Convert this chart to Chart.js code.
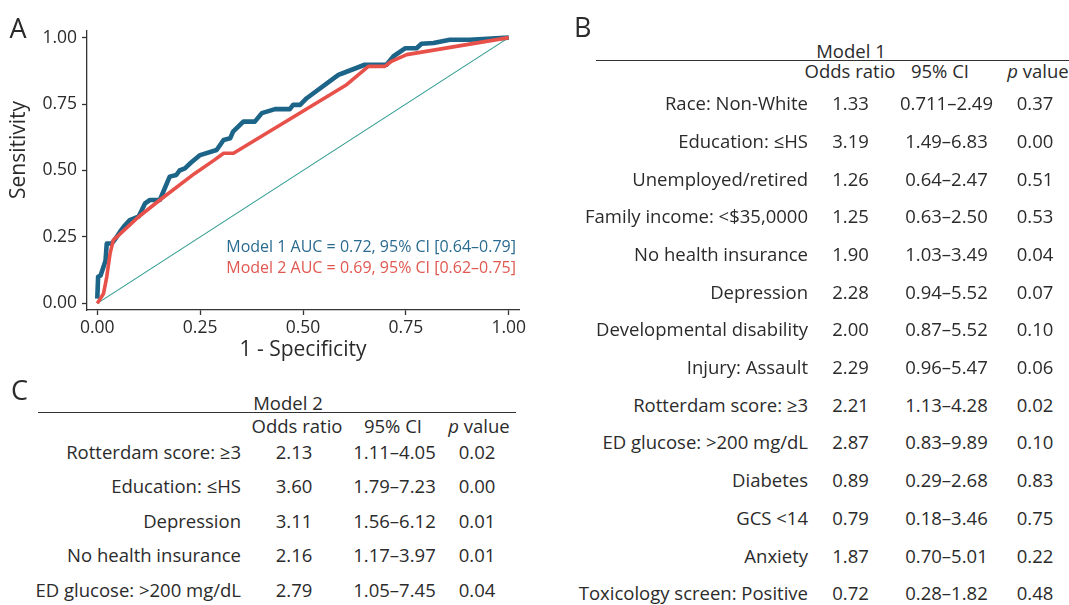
<!DOCTYPE html>
<html>
<head>
<meta charset="utf-8">
<script src="https://cdn.jsdelivr.net/npm/chart.js@4"></script>
<style>
  body { margin: 0; background: #fff; }
  #page { position: relative; width: 1069px; height: 605px; overflow: hidden; font-family: 'Open Sans', 'Noto Sans', sans-serif; color: #2b2b2b; }
  #rocWrap { position: absolute; left: 0; top: 0; width: 540px; height: 370px; }
  .t { position: absolute; white-space: nowrap; }
  .rule { position: absolute; height: 0; border-top: 1.3px solid #333; }
</style>
</head>
<body>
<div id="page">
  <div id="rocWrap"><canvas id="roc" width="540" height="370"></canvas></div>
</div>
<script>
// ROC curve points (1 - specificity, sensitivity)
const m1Fpr = [0, 0.002, 0.008, 0.015, 0.02, 0.023, 0.035, 0.045, 0.055, 0.065, 0.079, 0.1, 0.108, 0.116, 0.128, 0.152, 0.176, 0.192, 0.2, 0.213, 0.228, 0.25, 0.29, 0.307, 0.323, 0.33, 0.355, 0.383, 0.4, 0.432, 0.468, 0.476, 0.493, 0.509, 0.586, 0.598, 0.65, 0.703, 0.72, 0.748, 0.776, 0.788, 0.817, 0.857, 0.905, 1.0];
const m1Tpr = [0.018, 0.1, 0.105, 0.137, 0.16, 0.225, 0.225, 0.245, 0.269, 0.29, 0.313, 0.326, 0.35, 0.376, 0.389, 0.389, 0.477, 0.483, 0.5, 0.508, 0.53, 0.558, 0.577, 0.615, 0.621, 0.646, 0.684, 0.684, 0.716, 0.731, 0.731, 0.747, 0.747, 0.772, 0.86, 0.867, 0.898, 0.898, 0.93, 0.96, 0.96, 0.977, 0.98, 0.992, 0.992, 1.0];
const m2Fpr = [0, 0.015, 0.023, 0.031, 0.039, 0.1, 0.152, 0.237, 0.285, 0.307, 0.331, 0.606, 0.659, 0.699, 0.715, 0.752, 1.0];
const m2Tpr = [0, 0.036, 0.1, 0.187, 0.238, 0.325, 0.389, 0.489, 0.54, 0.565, 0.565, 0.823, 0.892, 0.892, 0.911, 0.936, 1.0];
const diagX = [0, 1];
const diagY = [0, 1];
const tickVals = [0, 0.25, 0.5, 0.75, 1];
const aucLabels = ['Model 1 AUC = 0.72, 95% CI [0.64\u20130.79]', 'Model 2 AUC = 0.69, 95% CI [0.62\u20130.75]'];

// Table B (Model 1)
const m1Vars = ['Race: Non-White', 'Education: \u2264HS', 'Unemployed/retired', 'Family income: <$35,0000', 'No health insurance', 'Depression', 'Developmental disability', 'Injury: Assault', 'Rotterdam score: \u22653', 'ED glucose: >200 mg/dL', 'Diabetes', 'GCS <14', 'Anxiety', 'Toxicology screen: Positive'];
const m1OR = ['1.33', '3.19', '1.26', '1.25', '1.90', '2.28', '2.00', '2.29', '2.21', '2.87', '0.89', '0.79', '1.87', '0.72'];
const m1CI = ['0.711\u20132.49', '1.49\u20136.83', '0.64\u20132.47', '0.63\u20132.50', '1.03\u20133.49', '0.94\u20135.52', '0.87\u20135.52', '0.96\u20135.47', '1.13\u20134.28', '0.83\u20139.89', '0.29\u20132.68', '0.18\u20133.46', '0.70\u20135.01', '0.28\u20131.82'];
const m1P = ['0.37', '0.00', '0.51', '0.53', '0.04', '0.07', '0.10', '0.06', '0.02', '0.10', '0.83', '0.75', '0.22', '0.48'];

// Table C (Model 2)
const m2Vars = ['Rotterdam score: \u22653', 'Education: \u2264HS', 'Depression', 'No health insurance', 'ED glucose: >200 mg/dL'];
const m2OR = ['2.13', '3.60', '3.11', '2.16', '2.79'];
const m2CI = ['1.11\u20134.05', '1.79\u20137.23', '1.56\u20136.12', '1.17\u20133.97', '1.05\u20137.45'];
const m2P = ['0.02', '0.00', '0.01', '0.01', '0.04'];

const FONT = "'Open Sans', 'Noto Sans', sans-serif";
const INK = '#2b2b2b';
const BLUE = '#1d6489';
const RED = '#e8504a';
const TXT = 18.5;

const toXY = (xs, ys) => xs.map((x, i) => ({ x, y: ys[i] }));

// extra text on the ROC panel: AUC annotations and the y title
const rocText = {
  id: 'rocText',
  afterDraw(chart) {
    const { ctx, chartArea, scales } = chart;
    ctx.save();
    ctx.font = `16px ${FONT}`;
    ctx.textAlign = 'right';
    ctx.textBaseline = 'alphabetic';
    ctx.fillStyle = '#2a6b90';
    ctx.fillText(aucLabels[0], chartArea.right - 3, scales.y.getPixelForValue(0.213) + 5.7);
    ctx.fillStyle = '#e05850';
    ctx.fillText(aucLabels[1], chartArea.right - 3, scales.y.getPixelForValue(0.137) + 5.7);
    ctx.translate(19, 150);
    ctx.rotate(-Math.PI / 2);
    ctx.textAlign = 'center';
    ctx.textBaseline = 'middle';
    ctx.fillStyle = INK;
    ctx.font = `21px ${FONT}`;
    ctx.fillText('Sensitivity', 0, 0);
    ctx.restore();
  }
};

const axisCommon = {
  type: 'linear',
  min: -0.025,
  max: 1.025,
  border: { display: true, color: '#333', width: 1.3 },
  grid: { drawOnChartArea: false, drawTicks: true, tickLength: 5, tickColor: '#333', tickWidth: 1.3 },
  ticks: {
    color: INK,
    font: { family: FONT, size: 17.5 },
    callback: (v) => v.toFixed(2)
  },
  afterBuildTicks: (scale) => { scale.ticks = tickVals.map((v) => ({ value: v })); }
};

new Chart(document.getElementById('roc'), {
  type: 'scatter',
  data: {
    datasets: [{
      data: toXY(m2Fpr, m2Tpr),
      showLine: true,
      borderColor: RED,
      borderWidth: 3.6,
      pointRadius: 0,
      order: 0
    }, {
      data: toXY(m1Fpr, m1Tpr),
      showLine: true,
      borderColor: BLUE,
      borderWidth: 4.6,
      pointRadius: 0,
      order: 1
    }, {
      data: toXY(diagX, diagY),
      showLine: true,
      borderColor: '#2c9a90',
      borderWidth: 1.1,
      pointRadius: 0,
      order: 2
    }]
  },
  options: {
    responsive: false,
    animation: false,
    events: [],
    elements: { line: { borderJoinStyle: 'round', tension: 0 } },
    layout: { padding: { top: 31, right: 21, left: 0, bottom: 3 } },
    plugins: { legend: { display: false }, tooltip: { enabled: false } },
    scales: {
      x: Object.assign({}, axisCommon, {
        ticks: Object.assign({}, axisCommon.ticks, { padding: 3 }),
        title: { display: true, text: '1 - Specificity', color: INK, font: { family: FONT, size: 21 } },
        afterFit: (scale) => { scale.height = 57; }
      }),
      y: Object.assign({}, axisCommon, {
        ticks: Object.assign({}, axisCommon.ticks, { padding: 5 }),
        afterFit: (scale) => { scale.width = 87; }
      })
    }
  },
  plugins: [rocText]
});

// ---- tables (B and C) and panel letters as plain HTML text ----
const page = document.getElementById('page');

function put(text, x, cy, size, align, html) {
  const el = document.createElement('div');
  el.className = 't';
  el.style.fontSize = size + 'px';
  el.style.lineHeight = size + 'px';
  el.style.top = (cy - 0.531 * size) + 'px';
  const w = 400;
  el.style.width = w + 'px';
  el.style.textAlign = align;
  if (align === 'right') el.style.left = (x - w) + 'px';
  else if (align === 'center') el.style.left = (x - w / 2) + 'px';
  else el.style.left = x + 'px';
  if (html) el.innerHTML = text; else el.textContent = text;
  page.appendChild(el);
}

function rule(x1, x2, y) {
  const el = document.createElement('div');
  el.className = 'rule';
  el.style.left = x1 + 'px';
  el.style.width = (x2 - x1) + 'px';
  el.style.top = y + 'px';
  page.appendChild(el);
}

function table(t) {
  put(t.title, t.titleX, t.titleY, TXT, 'center');
  rule(t.ruleX1, t.ruleX2, t.ruleY);
  put('Odds ratio', t.cols[0], t.headY, TXT, 'center');
  put('95% CI', t.cols[1], t.headY, TXT, 'center');
  put('<i>p</i> value', t.cols[2], t.headY, TXT, 'center', true);
  t.vars.forEach((v, i) => {
    const cy = t.row0 + i * t.step;
    put(v, t.labelRight, cy, TXT, 'right');
    put(t.or[i], t.vcols[0], cy, TXT, 'center');
    put(t.ci[i], t.vcols[1], cy, TXT, 'center');
    put(t.p[i], t.vcols[2], cy, TXT, 'center');
  });
}

table({
  title: 'Model 1', titleX: 851, titleY: 51.5,
  ruleX1: 596, ruleX2: 1069, ruleY: 60,
  cols: [850, 940, 1038], headY: 71.5,
  vcols: [850.5, 946.5, 1035], labelRight: 808,
  row0: 104, step: 37.7,
  vars: m1Vars, or: m1OR, ci: m1CI, p: m1P
});

table({
  title: 'Model 2', titleX: 288, titleY: 404,
  ruleX1: 38, ruleX2: 516, ruleY: 411.5,
  cols: [297, 393, 479], headY: 426.5,
  vcols: [294, 394.5, 477], labelRight: 241,
  row0: 452.5, step: 34.5,
  vars: m2Vars, or: m2OR, ci: m2CI, p: m2P
});

put('A', 9.5, 28.3, 27, 'left');
put('B', 574, 27.5, 27, 'left');
put('C', 11, 390, 27, 'left');
</script>
</body>
</html>
